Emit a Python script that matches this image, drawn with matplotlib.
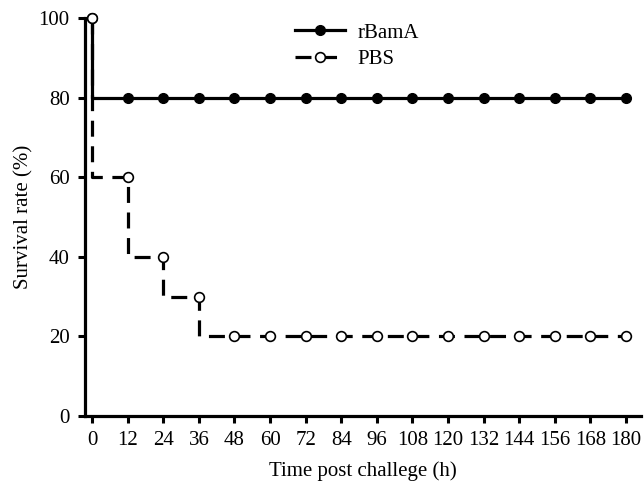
import matplotlib.pyplot as plt

# survival after challenge
hours = [0, 12, 24, 36, 48, 60, 72, 84, 96, 108, 120, 132, 144, 156, 168, 180]
rbama = [100, 80, 80, 80, 80, 80, 80, 80, 80, 80, 80, 80, 80, 80, 80, 80]
pbs = [100, 60, 40, 30, 20, 20, 20, 20, 20, 20, 20, 20, 20, 20, 20, 20]
yticks = [0, 20, 40, 60, 80, 100]

plt.rcParams['font.family'] = ['Liberation Serif', 'DejaVu Serif']
plt.rcParams['font.size'] = 15

fig = plt.figure(figsize=(6.44, 4.90), dpi=100)
ax = fig.add_axes([0.132, 0.151, 0.863, 0.812])

ax.plot(hours, rbama, drawstyle='steps-pre', color='black', lw=2.3,
        marker='o', ms=7, mfc='black', mec='black', label='rBamA',
        zorder=3, clip_on=False)
ax.plot(hours, pbs, drawstyle='steps-pre', color='black', lw=2.3, dashes=(5, 3),
        marker='o', ms=7, mfc='white', mec='black', mew=1.2, label='PBS',
        zorder=4, clip_on=False)

ax.set_xlim(-2.4, 185)
ax.set_ylim(0, 100)
ax.set_xticks(hours)
ax.set_yticks(yticks)
ax.spines['top'].set_visible(False)
ax.spines['right'].set_visible(False)
ax.spines['left'].set_linewidth(2.3)
ax.spines['bottom'].set_linewidth(2.3)
ax.tick_params(direction='out', length=5, width=2.2, pad=6)

ax.set_xlabel('Time post challege (h)', labelpad=8)
ax.set_ylabel('Survival rate (%)', labelpad=4)

ax.legend(loc='upper center', bbox_to_anchor=(0.49, 1.035), frameon=False,
          handlelength=2.4, handletextpad=0.6, labelspacing=0.35)

fig.savefig('out.png', dpi=100)
